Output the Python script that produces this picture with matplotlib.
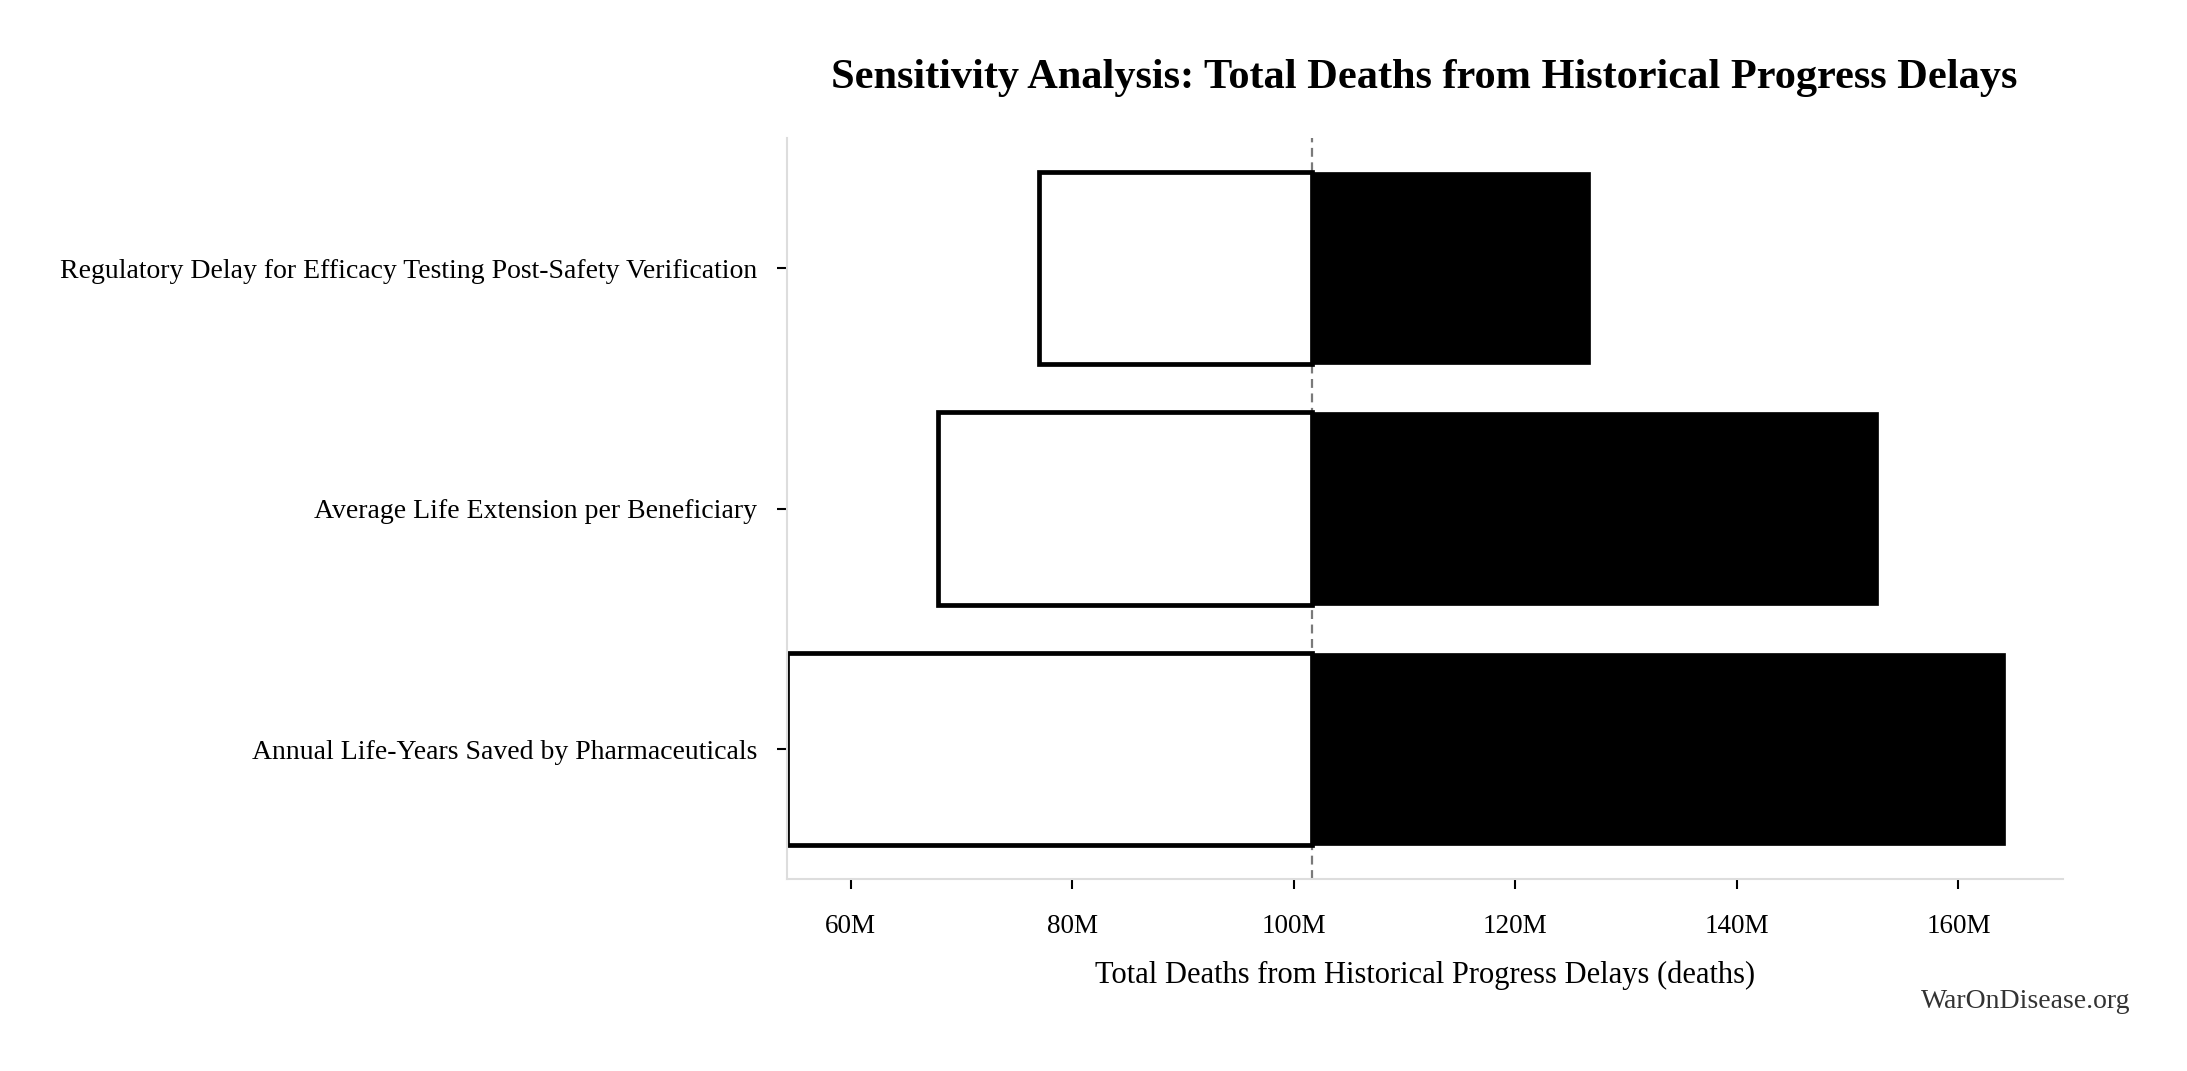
import matplotlib
matplotlib.use("Agg")
import matplotlib.pyplot as plt
from matplotlib.ticker import FuncFormatter

# --- data (millions of deaths) ---
parameters = [
    "Annual Life-Years Saved by Pharmaceuticals",
    "Average Life Extension per Beneficiary",
    "Regulatory Delay for Efficacy Testing Post-Safety Verification",
]
low_values = [54.2, 67.9, 77.0]
high_values = [164.2, 152.7, 126.7]
baseline = 101.6
x_limits = (54.2, 169.4)
x_ticks = [60, 80, 100, 120, 140, 160]

plt.rcParams['font.family'] = ['Liberation Serif', 'DejaVu Serif']

fig = plt.figure(figsize=(21.87, 10.71), dpi=100)
ax = fig.add_axes([0.3597, 0.1793, 0.5834, 0.6916])

ypos = list(range(len(parameters)))

# low side: white boxes with heavy outline
for y, lo in zip(ypos, low_values):
    ax.barh(y, baseline - lo, left=lo, height=0.8, color='white',
            edgecolor='black', linewidth=3.4, zorder=2)
# high side: solid black
for y, hi in zip(ypos, high_values):
    ax.barh(y, hi - baseline, left=baseline, height=0.8, color='black',
            edgecolor='black', linewidth=0.5, zorder=3)

ax.axvline(baseline, color='#7a7a7a', linestyle='--', linewidth=1.6,
           dashes=(4, 2.5), zorder=1)

ax.set_xlim(*x_limits)
ax.set_xticks(x_ticks)
ax.xaxis.set_major_formatter(FuncFormatter(lambda v, p: f"{v:.0f}M"))
ax.set_yticks(ypos)
ax.set_yticklabels(parameters)

for s in ['top', 'right']:
    ax.spines[s].set_visible(False)
for s in ['left', 'bottom']:
    ax.spines[s].set_color('#dddddd')
    ax.spines[s].set_linewidth(1.5)

ax.tick_params(axis='x', length=7, width=1.5, color='black', pad=18,
               labelsize=19.5)
ax.tick_params(axis='y', length=7, width=1.5, color='black', pad=14,
               labelsize=20)

ax.set_xlabel("Total Deaths from Historical Progress Delays (deaths)",
              fontsize=22, labelpad=16)
ax.set_title("Sensitivity Analysis: Total Deaths from Historical Progress Delays",
             fontsize=30.5, fontweight='bold', pad=36)

fig.text(0.974, 0.053, "WarOnDisease.org", ha='right', va='bottom',
         fontsize=20, color='#333333')

fig.savefig("out.png", dpi=100)
